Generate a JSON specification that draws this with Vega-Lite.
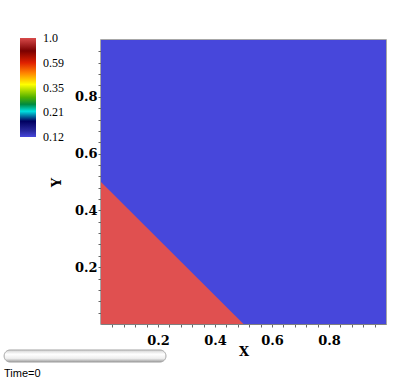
{
  "$schema": "https://vega.github.io/schema/vega-lite/v6.json",
  "width": 285,
  "height": 284,
  "autosize": {"type": "none"},
  "padding": {"left": 101, "top": 40, "right": 21, "bottom": 58},
  "background": "white",
  "config": {"view": {"stroke": "#8a8a8a", "strokeWidth": 1.5}},
  "datasets": {
    "regions": [
      {"region": "outer", "x": 0, "y": 1, "value": 0.1225},
      {"region": "outer", "x": 1, "y": 1, "value": 0.1225},
      {"region": "inner", "x": 0, "y": 0.5, "value": 1},
      {"region": "inner", "x": 0.5, "y": 0, "value": 1}
    ]
  },
  "title": {
    "text": "Time=0",
    "orient": "bottom",
    "anchor": "start",
    "frame": "group",
    "dx": -97,
    "offset": 5,
    "font": "Liberation Sans",
    "fontSize": 11,
    "fontWeight": "normal",
    "color": "#000000"
  },
  "layer": [
    {
      "data": {"name": "regions"},
      "encoding": {
        "x": {
          "field": "x",
          "type": "quantitative",
          "scale": {"domain": [0, 1], "nice": false, "zero": false},
          "axis": {
            "values": [0.04, 0.08, 0.12, 0.16, 0.2, 0.24, 0.28, 0.32, 0.36, 0.4, 0.44, 0.48, 0.52, 0.56, 0.6, 0.64, 0.68, 0.72, 0.76, 0.8, 0.84, 0.88, 0.92, 0.96],
            "tickCount": 50,
            "labelExpr": "(round(datum.value*100) % 20 == 0) ? format(datum.value, '.1f') : ''",
            "labelOverlap": false,
            "labelFlush": false,
            "grid": false,
            "tickSize": 3,
            "tickColor": "#666666",
            "domainColor": "#808080",
            "labelFont": "DejaVu Serif",
            "labelFontWeight": "bold",
            "labelFontSize": 13,
            "labelColor": "#000000",
            "labelPadding": 7,
            "title": "X",
            "titleFont": "DejaVu Serif",
            "titleFontWeight": "bold",
            "titleFontSize": 13,
            "titleColor": "#000000",
            "titlePadding": -2
          }
        },
        "y": {
          "field": "y",
          "type": "quantitative",
          "stack": null,
          "scale": {"domain": [0, 1], "nice": false, "zero": false},
          "axis": {
            "values": [0.04, 0.08, 0.12, 0.16, 0.2, 0.24, 0.28, 0.32, 0.36, 0.4, 0.44, 0.48, 0.52, 0.56, 0.6, 0.64, 0.68, 0.72, 0.76, 0.8, 0.84, 0.88, 0.92, 0.96],
            "tickCount": 50,
            "labelExpr": "(round(datum.value*100) % 20 == 0) ? format(datum.value, '.1f') : ''",
            "labelOverlap": false,
            "labelFlush": false,
            "grid": false,
            "tickSize": 3,
            "tickColor": "#666666",
            "domainColor": "#808080",
            "labelFont": "DejaVu Serif",
            "labelFontWeight": "bold",
            "labelFontSize": 13,
            "labelColor": "#000000",
            "labelPadding": 1,
            "title": "Y",
            "titleFont": "DejaVu Serif",
            "titleFontWeight": "bold",
            "titleFontSize": 13,
            "titleColor": "#000000",
            "titlePadding": 11
          }
        },
        "color": {
          "field": "value",
          "type": "quantitative",
          "scale": {
            "type": "log",
            "domain": [0.1225, 1],
            "range": ["#4747db", "#e05050"]
          },
          "legend": {
            "orient": "none",
            "legendX": -81,
            "legendY": -2,
            "direction": "vertical",
            "gradientLength": 99,
            "gradientThickness": 16,
            "gradientStrokeWidth": 0,
            "title": null,
            "padding": 0,
            "values": [0.1225, 0.2071, 0.3499, 0.5914, 1],
            "labelExpr": "datum.value >= 0.999 ? '1.0' : format(datum.value, '.2f')",
            "labelFont": "Liberation Serif",
            "labelFontSize": 12,
            "labelColor": "#000000",
            "labelOffset": 7,
            "labelOverlap": false,
            "encode": {
              "gradient": {
                "update": {
                  "fill": {
                    "value": {
                      "gradient": "linear",
                      "x1": 0, "y1": 1, "x2": 0, "y2": 0,
                      "stops": [
                        {"offset": 0, "color": "#4747db"},
                        {"offset": 0.06, "color": "#2a2aa0"},
                        {"offset": 0.16, "color": "#000060"},
                        {"offset": 0.26, "color": "#00e0e0"},
                        {"offset": 0.33, "color": "#008a40"},
                        {"offset": 0.4, "color": "#50b000"},
                        {"offset": 0.53, "color": "#ffff00"},
                        {"offset": 0.65, "color": "#ff8000"},
                        {"offset": 0.75, "color": "#e02000"},
                        {"offset": 0.87, "color": "#7a0000"},
                        {"offset": 1, "color": "#d84a4a"}
                      ]
                    }
                  }
                }
              },
              "labels": {
                "update": {"baseline": {"value": "middle"}}
              }
            }
          }
        }
      },
      "layer": [
        {
          "transform": [{"filter": "datum.region == 'outer'"}],
          "mark": {"type": "area", "interpolate": "linear"}
        },
        {
          "transform": [{"filter": "datum.region == 'inner'"}],
          "mark": {"type": "area", "interpolate": "linear"}
        }
      ]
    },
    {
      "data": {"values": [{"item": "slider"}]},
      "mark": {
        "type": "rect",
        "cornerRadius": 6,
        "stroke": "#a5a5a5",
        "strokeWidth": 1,
        "fill": {
          "gradient": "linear",
          "x1": 0, "y1": 0, "x2": 0, "y2": 1,
          "stops": [
            {"offset": 0, "color": "#d2d2d2"},
            {"offset": 0.35, "color": "#ffffff"},
            {"offset": 0.7, "color": "#eeeeee"},
            {"offset": 1, "color": "#9c9c9c"}
          ]
        }
      },
      "encoding": {
        "x": {"datum": -0.34, "type": "quantitative", "scale": {"domain": [0, 1], "nice": false, "zero": false}},
        "x2": {"datum": 0.228},
        "y": {"datum": -0.0915, "type": "quantitative", "scale": {"domain": [0, 1], "nice": false, "zero": false}},
        "y2": {"datum": -0.134}
      }
    }
  ]
}
